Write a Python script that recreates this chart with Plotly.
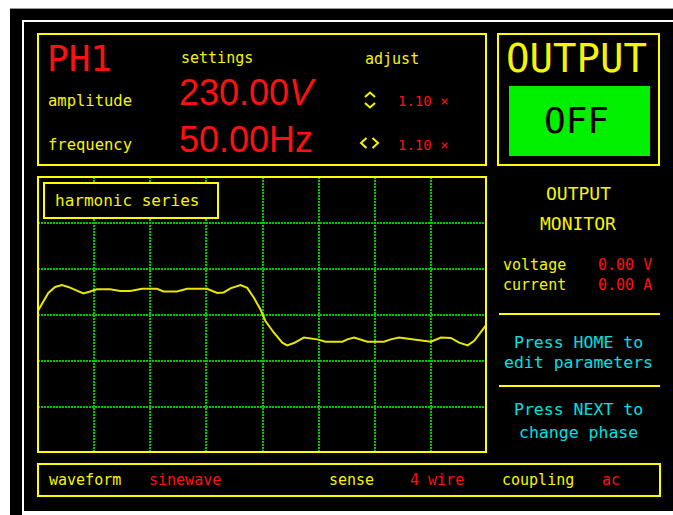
import plotly.graph_objects as go

W, H = 673, 515

# ---- data ----
# waveform: time in ms (2.5 ms / division, 8 divisions), value in divisions
t_ms = [0.00, 0.24, 0.46, 0.76, 1.06, 1.35, 1.65, 2.02, 2.32, 2.62, 3.21, 3.66, 4.11, 4.63,
        5.30, 5.59, 6.19, 6.64, 7.53, 7.98, 8.27, 8.57, 9.02, 9.32, 9.61, 9.91, 10.13, 10.50,
        10.88, 11.10, 11.40, 11.84, 12.44, 12.81, 13.56, 13.78, 14.08, 14.67, 15.41, 15.71,
        16.08, 16.75, 17.50, 17.95, 18.39, 18.76, 19.14, 19.43, 19.73, 19.96]
wave = [0.09, 0.28, 0.48, 0.61, 0.65, 0.61, 0.54, 0.47, 0.51, 0.56, 0.56, 0.52, 0.52, 0.57,
        0.57, 0.51, 0.51, 0.57, 0.57, 0.48, 0.49, 0.58, 0.65, 0.59, 0.38, 0.12, -0.13, -0.38,
        -0.60, -0.66, -0.61, -0.49, -0.53, -0.58, -0.58, -0.53, -0.49, -0.58, -0.58, -0.53,
        -0.49, -0.53, -0.58, -0.49, -0.50, -0.60, -0.66, -0.56, -0.38, -0.22]

phase = "PH1"
amplitude_txt = "230.00"
frequency_txt = "50.00"
adjust_factors = ["1.10 ×", "1.10 ×"]
monitor_labels = ["voltage", "current"]
monitor_values = ["0.00 V", "0.00 A"]
bottom_items = [("waveform", "sinewave"), ("sense", "4 wire"), ("coupling", "ac")]

YEL = "#f5f500"
YB = "#ffff00"
RED = "#ff1010"
CYAN = "#00e0e0"
GRID = "#00c800"
MONO = "DejaVu Sans Mono"


def px(x):
    return x / W


def py(y):
    return 1 - y / H


shapes = []
annotations = []


def rect(x0, y0, x1, y1, fill=None, line=None, lw=2, layer="below"):
    shapes.append(dict(type="rect", xref="paper", yref="paper",
                       x0=px(x0), x1=px(x1), y0=py(y1), y1=py(y0),
                       fillcolor=fill if fill else "rgba(0,0,0,0)",
                       line=dict(color=line if line else "rgba(0,0,0,0)", width=lw if line else 0),
                       layer=layer))


def hline(x0, x1, y, color=YB, lw=2, layer="above"):
    shapes.append(dict(type="line", xref="paper", yref="paper",
                       x0=px(x0), x1=px(x1), y0=py(y), y1=py(y),
                       line=dict(color=color, width=lw), layer=layer))


def vline(x, y0, y1, color, lw=2, layer="below"):
    shapes.append(dict(type="line", xref="paper", yref="paper",
                       x0=px(x), x1=px(x), y0=py(y0), y1=py(y1),
                       line=dict(color=color, width=lw), layer=layer))


def poly(points, color=YEL, lw=2):
    d = "M " + " L ".join(f"{px(a):.5f},{py(b):.5f}" for a, b in points)
    shapes.append(dict(type="path", xref="paper", yref="paper", path=d,
                       line=dict(color=color, width=lw), layer="above"))


def text(s, x, y, size, color=YEL, anchor="left", family=MONO):
    annotations.append(dict(text=s, xref="paper", yref="paper", x=px(x), y=py(y),
                            xanchor=anchor, yanchor="middle", showarrow=False,
                            font=dict(family=family, size=size, color=color)))


# outer frame (paper is black; white margins drawn explicitly)
rect(0, 0, 673, 8, fill="white")
rect(0, 0, 10, 515, fill="white")
rect(22, 513, 673, 515, fill="white")
hline(10, 673, 8.5, color="#999999", lw=1, layer="below")
hline(22, 673, 21, color="white", lw=2, layer="below")
hline(22, 673, 512, color="white", lw=2, layer="below")
vline(23, 20, 513, color="white")

# panels
rect(38, 34, 486, 165, line=YB, layer="above")
rect(498, 34, 659, 165, line=YB, layer="above")
rect(509, 86, 650, 156, fill="#00f000", layer="above")
rect(38, 177, 486, 452, line=YB, layer="above")
rect(44, 183, 218, 218, fill="black", line=YB, layer="above")
rect(38, 464, 660, 496, line=YB, layer="above")
hline(499, 660, 314)
hline(499, 660, 386)

# adjust arrows
poly([(365, 97), (370, 92.5), (375, 97)])
poly([(365, 103), (370, 107.5), (375, 103)])
poly([(366.5, 138), (361, 143), (366.5, 148)])
poly([(372.5, 138), (378, 143), (372.5, 148)])

# top panel texts
text(phase, 45, 58, 36, RED)
text("settings", 179, 58, 15)
text("adjust", 363, 59, 15)
text("amplitude", 46, 101, 15.5)
text("frequency", 46, 145, 15.5)
text(amplitude_txt + "<i>V</i>", 177, 92, 36, RED, family="Liberation Sans")
text(frequency_txt + "Hz", 177, 139, 36, RED, family="Liberation Sans")
text(adjust_factors[0], 396, 101, 14, RED)
text(adjust_factors[1], 396, 145, 14, RED)

# output box
text("OUTPUT", 576, 58, 39, YEL, anchor="center")
text("OFF", 576, 121, 36, "black", anchor="center")

# monitor
text("OUTPUT", 578, 194, 18, YEL, anchor="center")
text("MONITOR", 578, 224, 18, YEL, anchor="center")
for i, (lab, val) in enumerate(zip(monitor_labels, monitor_values)):
    text(lab, 501, 265 + 20 * i, 15)
    text(val, 596, 265 + 20 * i, 15, RED)
text("Press HOME to", 578, 342, 16.5, CYAN, anchor="center")
text("edit parameters", 578, 362, 16.5, CYAN, anchor="center")
text("Press NEXT to", 578, 409, 16.5, CYAN, anchor="center")
text("change phase", 578, 432, 16.5, CYAN, anchor="center")

# chart label
text("harmonic series", 53, 200, 16)

# bottom bar
xs = [(47, 147), (327, 408), (500, 600)]
for (lab, val), (xl, xv) in zip(bottom_items, xs):
    text(lab, xl, 480, 15)
    text(val, xv, 480, 15, RED)

fig = go.Figure()
fig.add_trace(go.Scatter(x=t_ms, y=wave, mode="lines",
                         line=dict(color="#e6e600", width=2), hoverinfo="skip"))

fig.update_layout(
    width=W, height=H, autosize=False,
    margin=dict(l=0, r=0, t=0, b=0),
    paper_bgcolor="black", plot_bgcolor="black",
    showlegend=False,
    shapes=shapes, annotations=annotations,
    xaxis=dict(domain=[px(38), px(487)], range=[0, 20], dtick=2.5, tick0=0,
               showgrid=True, gridcolor=GRID, gridwidth=1.5, griddash="1.5px,1.5px",
               zeroline=False, showticklabels=False, ticks="", showline=False, fixedrange=True),
    yaxis=dict(domain=[py(453), py(177)], range=[-3, 3], dtick=1, tick0=0,
               showgrid=True, gridcolor=GRID, gridwidth=1.5, griddash="1.5px,1.5px",
               zeroline=False, showticklabels=False, ticks="", showline=False, fixedrange=True),
)

js = ("document.body.style.margin='0px';document.body.style.overflow='hidden';"
      "document.documentElement.style.overflow='hidden';"
      "document.body.style.background='black';")
fig.write_html("out.html", config={"displayModeBar": False}, post_script=js)
